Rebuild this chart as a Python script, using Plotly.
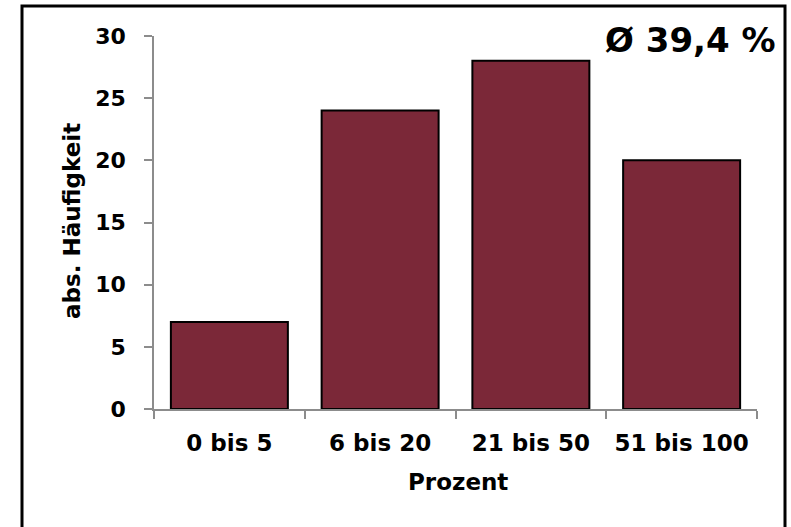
import plotly.graph_objects as go

categories = ["0 bis 5", "6 bis 20", "21 bis 50", "51 bis 100"]
counts = [7, 24, 28, 20]
y_ticks = [0, 5, 10, 15, 20, 25, 30]
mean_label = "Ø 39,4 %"
x_title = "Prozent"
y_title = "abs. Häufigkeit"

FONT = "DejaVu Sans"
W, H = 791, 527
L, R, T, B = 154, 34, 36, 118
pw, ph = W - L - R, H - T - B

def px_x(p):
    return (p - L) / pw

def px_y(p):
    return (H - B - p) / ph

fig = go.Figure(go.Bar(
    x=categories, y=counts,
    marker=dict(color="#7B2838", line=dict(color="black", width=2)),
))

fig.update_layout(
    width=W, height=H,
    margin=dict(l=L, r=R, t=T, b=B, autoexpand=False),
    plot_bgcolor="white", paper_bgcolor="white",
    bargap=0.224,
    showlegend=False,
    font=dict(family=FONT, color="black"),
    xaxis=dict(
        showline=True, linecolor="#8c8c8c", linewidth=1.5,
        ticks="outside", tickson="boundaries", ticklen=8, tickcolor="#8c8c8c", tickwidth=1.5,
        tickfont=dict(family=FONT, size=23, color="black", weight="bold"),
        ticklabelstandoff=13,
        showgrid=False, zeroline=False,
    ),
    yaxis=dict(
        range=[0, 30], tickvals=y_ticks,
        showline=True, linecolor="#8c8c8c", linewidth=1.5,
        ticks="outside", ticklen=8, tickcolor="#8c8c8c", tickwidth=1.5,
        tickfont=dict(family=FONT, size=22, color="black", weight="bold"),
        ticklabelstandoff=14,
        showgrid=False, zeroline=False,
    ),
    annotations=[
        dict(text=mean_label, xref="paper", yref="paper", x=px_x(778), y=px_y(40),
             xanchor="right", yanchor="middle", showarrow=False,
             font=dict(family=FONT, size=34, color="black", weight="bold")),
        dict(text=x_title, xref="paper", yref="paper", x=px_x(458), y=px_y(482),
             xanchor="center", yanchor="middle", showarrow=False,
             font=dict(family=FONT, size=23, color="black", weight="bold")),
        dict(text=y_title, xref="paper", yref="paper", x=px_x(72), y=px_y(221),
             xanchor="center", yanchor="middle", showarrow=False, textangle=-90,
             font=dict(family=FONT, size=23, color="black", weight="bold")),
    ],
    shapes=[
        dict(type="rect", xref="paper", yref="paper",
             x0=px_x(22), x1=px_x(785), y0=px_y(560), y1=px_y(6),
             line=dict(color="black", width=3), fillcolor="rgba(0,0,0,0)", layer="below"),
    ],
)

fig.write_html("out.html", config={"displayModeBar": False},
               post_script="document.body.style.margin='0';")
